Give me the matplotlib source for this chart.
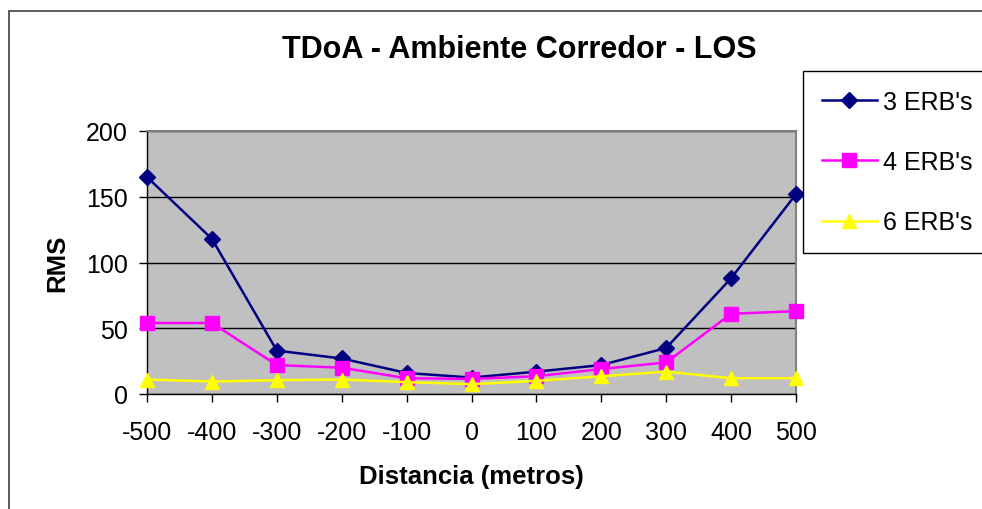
import matplotlib
matplotlib.use("Agg")
import matplotlib.pyplot as plt
from matplotlib.patches import Rectangle

plt.rcParams['font.family'] = ['Liberation Sans', 'DejaVu Sans']
plt.rcParams['axes.unicode_minus'] = False

distancia = [-500, -400, -300, -200, -100, 0, 100, 200, 300, 400, 500]
erb3 = [165, 118, 33, 27, 16, 12.5, 17, 22, 35, 88, 152]
erb4 = [54, 54, 22, 20, 12, 11.5, 13.5, 19, 24, 61, 63]
erb6 = [11, 9.5, 10.5, 11, 9, 7.5, 10, 13.5, 17, 12, 12]
labels = ["3 ERB's", "4 ERB's", "6 ERB's"]
yticks = [0, 50, 100, 150, 200]

W, H = 982, 510
fig = plt.figure(figsize=(W / 100, H / 100), dpi=100)

# outer chart border
fig.patches.append(Rectangle((9 / W, -0.5), 2.0, 1.5 - 12 / H, transform=fig.transFigure,
                             fill=False, edgecolor='#404040', linewidth=1.2))

ax = fig.add_axes([147 / W, 1 - 395 / H, (796 - 147) / W, (395 - 132) / H])
ax.set_facecolor('#C0C0C0')

series = [
    (erb3, '#000080', 'D', 8.5),
    (erb4, '#FF00FF', 's', 10),
    (erb6, '#FFFF00', '^', 10),
]
handles = []
for vals, col, mk, ms in series:
    ln, = ax.plot(distancia, vals, color=col, marker=mk, markersize=ms, linewidth=1.8,
                  markeredgecolor=col, clip_on=False, zorder=3)
    handles.append(ln)

ax.set_xlim(-500, 500)
ax.set_ylim(0, 200)
ax.set_xticks(distancia)
ax.set_yticks(yticks)
ax.yaxis.grid(True, color='#000000', linewidth=1.0)
ax.set_axisbelow(True)
for s in ['top', 'right']:
    ax.spines[s].set_color('#808080')
    ax.spines[s].set_linewidth(1.5)
for s in ['left', 'bottom']:
    ax.spines[s].set_color('#000000')
    ax.spines[s].set_linewidth(1.0)
ax.tick_params(axis='both', direction='out', length=6, width=1, labelsize=18, colors='#000000')
ax.tick_params(axis='x', pad=13)
ax.tick_params(axis='y', pad=8)

fig.text(519 / W, 1 - 50 / H, 'TDoA - Ambiente Corredor - LOS', ha='center', va='center',
         fontsize=22, fontweight='bold')
fig.text(471 / W, 1 - 477 / H, 'Distancia (metros)', ha='center', va='center',
         fontsize=18.5, fontweight='bold')
fig.text(57 / W, 1 - 263 / H, 'RMS', ha='center', va='center', rotation=90,
         fontsize=18.5, fontweight='bold')

leg = fig.legend(handles, labels, loc='upper left', bbox_to_anchor=(803 / W, 1 - 72 / H),
                 bbox_transform=fig.transFigure, fontsize=18, frameon=True, fancybox=False,
                 edgecolor='#000000', framealpha=1, borderpad=0.75, labelspacing=1.45,
                 handlelength=2.2, handletextpad=0.25, borderaxespad=0)
leg.get_frame().set_linewidth(1.0)

fig.savefig('out.png', dpi=100)
